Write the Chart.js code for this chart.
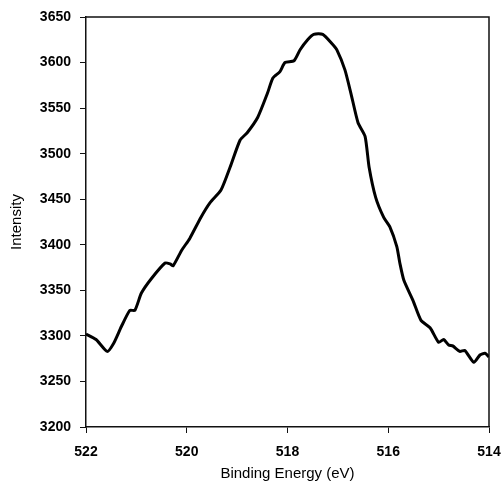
<!DOCTYPE html>
<html>
<head>
<meta charset="utf-8">
<script src="https://cdn.jsdelivr.net/npm/chart.js@4"></script>
<style>
  html, body { margin: 0; padding: 0; background: #fff; }
  #wrap { width: 503px; height: 487px; }
</style>
</head>
<body>
<div id="wrap"><canvas id="c" width="503" height="487"></canvas></div>
<script>
// binding energy (eV) and intensity
var energies = [522.0, 521.8, 521.58, 521.45, 521.3, 521.13, 521.03, 520.9, 520.7, 520.43, 520.33, 520.27, 520.1,
    519.94, 519.72, 519.54, 519.32, 519.14, 518.94, 518.8, 518.59, 518.4, 518.29, 518.15, 518.05, 517.87,
    517.75, 517.6, 517.48, 517.3, 517.12, 517.02, 516.86, 516.74, 516.6, 516.46, 516.38, 516.25, 516.09,
    515.97, 515.83, 515.77, 515.69, 515.51, 515.35, 515.17, 515.0, 514.9, 514.8, 514.72, 514.58, 514.48,
    514.3, 514.18, 514.08, 514.0];
var intensities = [3302, 3296, 3283, 3292, 3310, 3328, 3328, 3347, 3363, 3380, 3379, 3377, 3394,
    3407, 3430, 3446, 3460, 3485, 3515, 3523, 3540, 3566, 3583, 3590, 3600, 3602,
    3614, 3625, 3631, 3631, 3621, 3614, 3592, 3566, 3534, 3519, 3485, 3452, 3430,
    3420, 3398, 3380, 3361, 3339, 3317, 3309, 3293, 3296, 3290, 3289, 3283, 3284,
    3271, 3279, 3281, 3277];

var xTicks = [522, 520, 518, 516, 514];
var yMin = 3200, yMax = 3650, yStep = 50;

var points = energies.map(function (e, i) { return { x: e, y: intensities[i] }; });

var boxPlugin = {
    id: 'box',
    afterDraw: function (chart) {
        var a = chart.chartArea, ctx = chart.ctx;
        ctx.save();
        ctx.strokeStyle = '#111';
        ctx.lineWidth = 1.5;
        ctx.beginPath();
        ctx.moveTo(a.left, a.top);
        ctx.lineTo(a.right, a.top);
        ctx.lineTo(a.right, a.bottom);
        ctx.stroke();
        ctx.restore();
    }
};

Chart.defaults.font.family = '"Liberation Sans", Arial, sans-serif';
Chart.defaults.color = '#000';

new Chart(document.getElementById('c').getContext('2d'), {
    type: 'line',
    data: {
        datasets: [{
            data: points,
            borderColor: '#000',
            borderWidth: 3,
            pointRadius: 0,
            tension: 0.2,
            fill: false
        }]
    },
    options: {
        responsive: false,
        animation: false,
        layout: { padding: { left: 0, top: 17, right: 14, bottom: 0 } },
        plugins: { legend: { display: false }, tooltip: { enabled: false } },
        scales: {
            x: {
                type: 'linear',
                reverse: true,
                min: 514,
                max: 522,
                afterBuildTicks: function (s) { s.ticks = xTicks.map(function (v) { return { value: v }; }); },
                grid: { drawOnChartArea: false, tickLength: 6, color: '#111', lineWidth: 1 },
                border: { color: '#111', width: 1.5 },
                ticks: { font: { size: 14, weight: 'bold' }, padding: 11, maxRotation: 0,
                    callback: function (v) { return String(v); } },
                title: { display: true, text: 'Binding Energy (eV)', font: { size: 15 }, padding: { top: 3 } },
                afterFit: function (s) { s.height = 60; s.paddingLeft = 0; s.paddingRight = 0; }
            },
            y: {
                min: yMin,
                max: yMax,
                ticks: { stepSize: yStep, font: { size: 14, weight: 'bold' }, padding: 9,
                    callback: function (v) { return String(v); } },
                grid: { drawOnChartArea: false, tickLength: 6, color: '#111', lineWidth: 1 },
                border: { color: '#111', width: 1.5 },
                title: { display: true, text: 'Intensity', font: { size: 15 }, padding: { top: 8, bottom: 4 } },
                afterFit: function (s) { s.width = 86; s.paddingTop = 0; s.paddingBottom = 0; }
            }
        }
    },
    plugins: [boxPlugin]
});
</script>
</body>
</html>
